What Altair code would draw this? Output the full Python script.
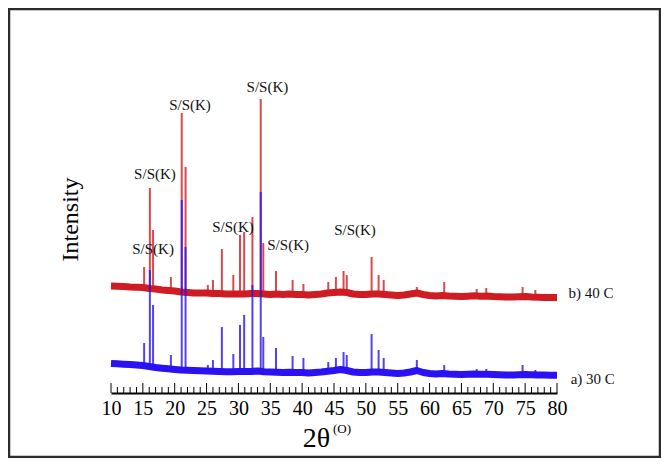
import altair as alt
import pandas as pd

SERIF = "Liberation Serif"
RED = "#cf1b22"
BLUE = "#2a12f2"

# ---- baseline (background) of each pattern, read every 1 degree ----
base_x = list(range(10, 81))
red_base = [1070, 1068, 1065, 1060, 1058, 1055, 1045, 1040, 1030, 1025,
            1020, 1010, 1005, 1000, 1000, 1000, 995, 995, 990, 990,
            990, 990, 995, 995, 990, 985, 990, 985, 990, 985,
            985, 980, 985, 990, 1000, 1005, 1010, 1005, 990, 985,
            985, 990, 990, 985, 980, 975, 980, 990, 1000, 985,
            975, 970, 975, 970, 968, 965, 968, 972, 968, 970,
            965, 962, 960, 960, 962, 965, 960, 958, 955, 955, 955]
blue_base = [295, 292, 288, 285, 280, 275, 265, 255, 248, 242,
             236, 230, 228, 225, 222, 220, 218, 215, 212, 212,
             215, 215, 215, 220, 212, 210, 208, 205, 208, 205,
             205, 200, 205, 210, 218, 225, 235, 225, 210, 205,
             205, 210, 210, 205, 200, 195, 200, 210, 225, 205,
             195, 190, 195, 190, 188, 185, 188, 190, 188, 188,
             185, 183, 180, 180, 183, 185, 182, 180, 180, 178, 178]

# ---- diffraction peaks: position, foot and top intensity ----
peak_x = [15.2, 16.1, 16.6, 19.4, 21.1, 21.7, 25.2, 26.0, 27.4, 29.2,
          30.25, 30.9, 32.2, 33.5, 33.9, 35.9, 38.5, 40.2, 44.1, 45.3,
          46.5, 47.0, 50.9, 52.0, 52.8, 58.0, 62.3, 67.4, 68.9, 74.6, 76.6]
red_top = [1260, 2050, 1630, 1160, 2800, 2260, 1080, 1130, 1440, 1180,
           1580, 1610, 1760, 2940, 1500, 1220, 1130, 1090, 1110, 1160,
           1220, 1180, 1360, 1180, 1130, 1060, 1110, 1040, 1050, 1060, 1030]
red_foot = [1055, 1045, 1045, 1025, 1010, 1005, 1000, 995, 995, 990,
            990, 990, 995, 995, 990, 990, 990, 985, 1000, 1005,
            1010, 1005, 985, 990, 985, 1000, 975, 972, 970, 962, 960]
blue_top = [500, 1230, 880, 380, 1930, 1460, 280, 330, 660, 390,
            680, 780, 1080, 2010, 560, 450, 370, 350, 310, 350,
            410, 380, 590, 430, 350, 330, 280, 240, 240, 280, 230]
blue_foot = [275, 265, 260, 242, 230, 228, 220, 218, 215, 212,
             215, 215, 215, 220, 212, 208, 208, 205, 218, 225,
             235, 225, 205, 210, 205, 225, 195, 190, 188, 183, 182]

# ---- annotations ----
ann_x = [16.9, 16.6, 22.4, 34.55, 29.15, 37.8, 48.3]
ann_y = [2190, 1440, 2880, 3060, 1660, 1480, 1630]
ann_text = ["S/S(K)"] * 7

series_x = [81.8, 82.15]
series_y = [1000, 140]
series_text = ["b) 40 C", "a) 30 C"]

x_ticks_major = list(range(10, 81, 5))
x_ticks_minor = [v for v in range(10, 81) if v % 5 != 0]

base_df = pd.DataFrame({"x": base_x, "red": red_base, "blue": blue_base})
peak_df = pd.DataFrame({"x": peak_x, "red_top": red_top, "red_foot": red_foot,
                        "blue_top": blue_top, "blue_foot": blue_foot})
ann_df = pd.DataFrame({"x": ann_x, "y": ann_y, "t": ann_text})
ser_df = pd.DataFrame({"x": series_x, "y": series_y, "t": series_text})
maj_df = pd.DataFrame({"x": x_ticks_major})
min_df = pd.DataFrame({"x": x_ticks_minor})
one_df = pd.DataFrame({"a": [0]})

xscale = alt.Scale(domain=[10, 80], nice=False, zero=False)
yscale = alt.Scale(domain=[0, 3200], nice=False, zero=False)
xaxis = alt.Axis(values=x_ticks_major, ticks=False, grid=False,
                 domainColor="black", domainWidth=2,
                 labelFont=SERIF, labelFontSize=20, labelColor="black",
                 labelPadding=5, labelFlush=False, labelOverlap=False,
                 title="2θ", titleFont=SERIF, titleFontSize=28,
                 titleFontWeight="normal", titleColor="black",
                 titleX=205, titlePadding=6)
yaxis = alt.Axis(domain=False, ticks=False, labels=False, grid=False,
                 title="Intensity", titleFont=SERIF, titleFontSize=24,
                 titleFontWeight="normal", titleColor="black",
                 titleX=-41, titleY=146, titleAlign="center",
                 titleBaseline="middle")

X = alt.X("x:Q", scale=xscale, axis=xaxis)

red_band = alt.Chart(base_df).mark_line(color=RED, strokeWidth=7, strokeJoin="round").encode(
    x=X, y=alt.Y("red:Q", scale=yscale, axis=yaxis))
red_peaks = alt.Chart(peak_df).mark_rule(color=RED, strokeWidth=2, opacity=0.8).encode(
    x=X, y=alt.Y("red_foot:Q", scale=yscale, axis=yaxis), y2="red_top:Q")
blue_band = alt.Chart(base_df).mark_line(color=BLUE, strokeWidth=7, strokeJoin="round").encode(
    x=X, y=alt.Y("blue:Q", scale=yscale, axis=yaxis))
blue_peaks = alt.Chart(peak_df).mark_rule(color=BLUE, strokeWidth=2, opacity=0.8).encode(
    x=X, y=alt.Y("blue_foot:Q", scale=yscale, axis=yaxis), y2="blue_top:Q")

maj_ticks = alt.Chart(maj_df).mark_rule(color="black", strokeWidth=1).encode(
    x=X, y=alt.value(320), y2=alt.value(310))
min_ticks = alt.Chart(min_df).mark_rule(color="black", strokeWidth=1).encode(
    x=X, y=alt.value(320), y2=alt.value(314))

ann = alt.Chart(ann_df).mark_text(font=SERIF, fontSize=15, color="#111").encode(
    x=X, y=alt.Y("y:Q", scale=yscale, axis=yaxis), text="t:N")
ser = alt.Chart(ser_df).mark_text(font=SERIF, fontSize=15, color="#111", align="left").encode(
    x=X, y=alt.Y("y:Q", scale=yscale, axis=yaxis), text="t:N")

sup = alt.Chart(one_df).mark_text(font=SERIF, fontSize=13, color="black", align="left",
                                  text="(O)").encode(x=alt.value(222), y=alt.value(356))

border = alt.Chart(one_df).mark_rect(fill="transparent", stroke="#2b2b2b", strokeWidth=2.5).encode(
    x=alt.value(-102), x2=alt.value(549), y=alt.value(-64), y2=alt.value(384))

chart = alt.layer(
    red_band, red_peaks, blue_band, blue_peaks,
    maj_ticks, min_ticks, ann, ser, sup, border
).properties(
    width=446, height=320,
    autosize=alt.AutoSizeParams(type="none"),
    padding={"left": 103, "top": 65, "right": 104, "bottom": 65},
).configure_view(strokeWidth=0)

chart.save("out.html", embed_options={"renderer": "svg", "actions": False})
